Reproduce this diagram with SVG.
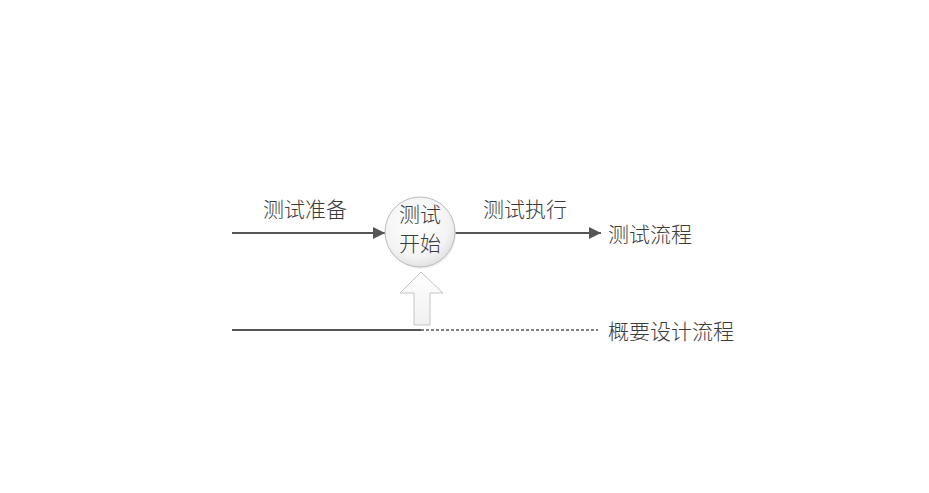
<svg xmlns="http://www.w3.org/2000/svg" width="929" height="493" viewBox="0 0 929 493">
<defs>
<marker id="ah" viewBox="0 0 10 10" refX="10" refY="5" markerWidth="14" markerHeight="12" markerUnits="userSpaceOnUse" orient="auto">
<path d="M0,0 L10,5 L0,10 Z" fill="#555"/>
</marker>
<radialGradient id="cg" cx="0.45" cy="0.4" r="0.65">
<stop offset="0" stop-color="#ffffff"/>
<stop offset="0.7" stop-color="#f4f4f4"/>
<stop offset="1" stop-color="#dcdcdc"/>
</radialGradient>
<linearGradient id="ag" x1="0" y1="0" x2="0" y2="1">
<stop offset="0" stop-color="#ffffff"/>
<stop offset="1" stop-color="#f0f0f0"/>
</linearGradient>
</defs>
<style>
.t{font-family:"Liberation Sans","Noto Sans CJK SC",sans-serif;font-size:21px;font-weight:300;fill:#3a3a3a;}
.ln{stroke:#555;stroke-width:2;fill:none;}
</style>
<rect width="929" height="493" fill="#fff"/>
<g id="connectors">
<line class="ln" x1="232" y1="233" x2="385" y2="233" marker-end="url(#ah)"/>
<line class="ln" x1="455" y1="233" x2="601" y2="233" marker-end="url(#ah)"/>
<line class="ln" x1="232" y1="330" x2="421" y2="330"/>
<line x1="421" y1="330" x2="598" y2="330" stroke="#555" stroke-width="1.5" stroke-dasharray="3,2"/>
</g>
<g id="start">
<circle cx="421" cy="234" r="35" fill="#e6e6e6" opacity="0.6"/>
<circle cx="420" cy="232" r="35" fill="url(#cg)" stroke="#bbb" stroke-width="1"/>
<text class="t" x="420" y="222" text-anchor="middle">测试</text>
<text class="t" x="420" y="251" text-anchor="middle">开始</text>
</g>
<g id="uparrow">
<path d="M421,272 L443,293 L430,293 L430,325 L414,325 L414,293 L400,293 Z" fill="url(#ag)" stroke="#c4c4c4" stroke-width="1"/>
</g>
<g id="label-prep"><text class="t" x="305" y="217" text-anchor="middle">测试准备</text></g>
<g id="label-exec"><text class="t" x="525" y="217" text-anchor="middle">测试执行</text></g>
<g id="label-flow"><text class="t" x="608" y="242">测试流程</text></g>
<g id="label-design"><text class="t" x="608" y="339">概要设计流程</text></g>
</svg>
